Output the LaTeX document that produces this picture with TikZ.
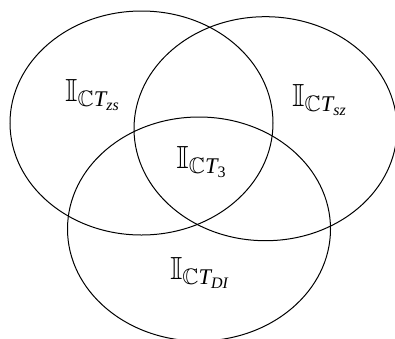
\documentclass[tikz,border=0pt]{standalone}
\usepackage{amsmath,amssymb}
\usepackage{fontspec}
\setmainfont{Liberation Serif}
\usetikzlibrary{shapes.geometric}

\begin{document}
\begin{tikzpicture}[
  x=0.5pt,y=-0.5pt,
  set/.style={draw=black,line width=0.5pt,ellipse,inner sep=0pt,minimum width=131.5pt,minimum height=112pt},
  setlabel/.style={font=\fontsize{16}{18}\selectfont,inner sep=1pt}
]
\useasboundingbox (0,0) rectangle (395,338);
\clip (0,0) rectangle (395,338);

% Three overlapping sets.
\node[set] (zs) at (141.5,123) {};
\node[set] (sz) at (265.5,128.7) {};
\node[set] (di) at (199,229) {};

% Region labels.
\node[setlabel] (lzs) at (93,95) {$\mathbb{I}_{\mathbb{C}\textit{T}_{\textit{zs}}}$};
\node[setlabel] (lsz) at (320,100) {$\mathbb{I}_{\mathbb{C}\textit{T}_{\textit{sz}}}$};
\node[setlabel] (l3) at (202,162) {$\mathbb{I}_{\mathbb{C}\textit{T}_{\text{3}}}$};
\node[setlabel] (ldi) at (200,273) {$\mathbb{I}_{\mathbb{C}\textit{T}_{\textit{DI}}}$};
\end{tikzpicture}
\end{document}
